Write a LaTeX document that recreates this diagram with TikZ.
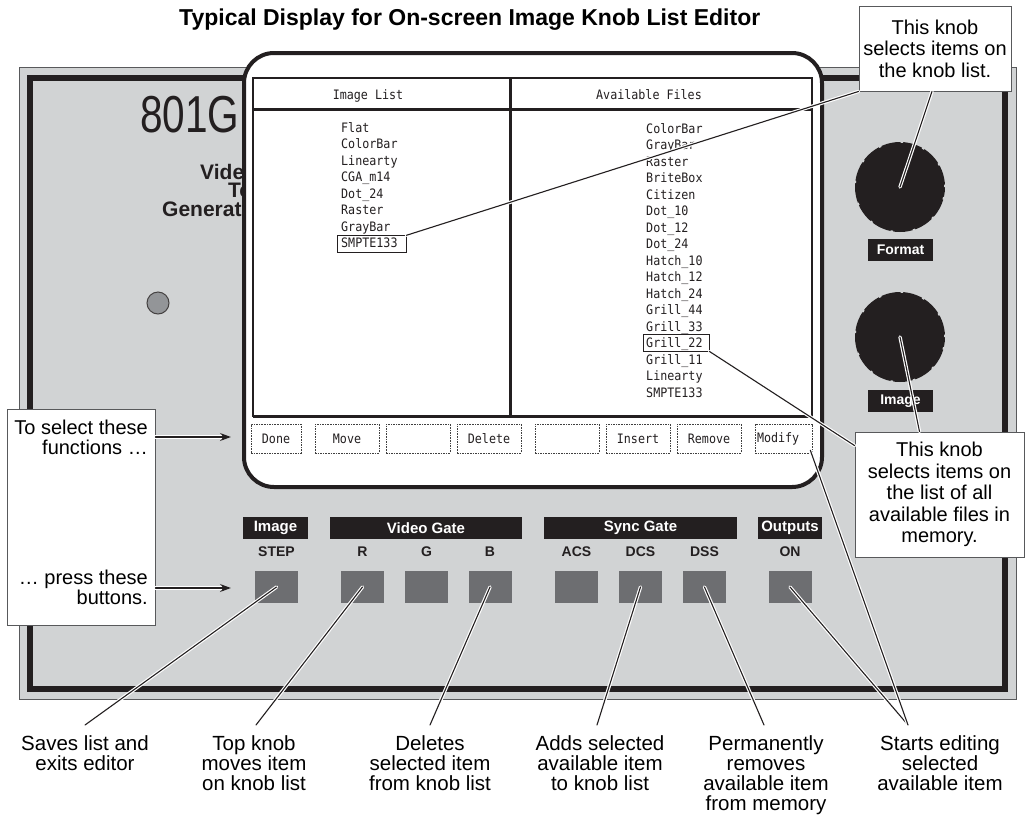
\documentclass[tikz,border=0pt]{standalone}
\usepackage{fontspec}
\setmainfont{Liberation Sans}
\newfontfamily\screenmono{DejaVu Sans Mono}[FakeStretch=0.9]
\newfontfamily\modelfont{Liberation Sans}[FakeStretch=0.78]
\usetikzlibrary{arrows.meta,calc}
\definecolor{panelgray}{HTML}{D1D3D4}
\definecolor{panelink}{HTML}{231F20}
\definecolor{keygray}{HTML}{6D6E71}
\definecolor{ledgray}{HTML}{939598}
\definecolor{rimgray}{HTML}{58595B}
\tikzset{
  scr/.style={font=\screenmono\fontsize{13}{13}\selectfont, inner sep=0, text=panelink},
  item/.style={scr, anchor=base west},
  pick/.style={draw=panelink, line width=0.9pt, inner sep=0, minimum height=16.5pt},
  softkey/.style={scr, draw=black!75, dash pattern=on 1.6pt off 1pt, line width=0.7pt, minimum height=29pt},
  tag/.style={fill=panelink, text=white, font=\bfseries\fontsize{15}{15}\selectfont, inner sep=0, minimum height=22pt},
  keyname/.style={font=\bfseries\fontsize{14}{14}\selectfont, text=panelink, inner sep=0},
  keycap/.style={fill=keygray, minimum width=43pt, minimum height=32pt, inner sep=0},
  knob/.style={circle, fill=panelink, minimum size=90pt, inner sep=0},
  lead/.style={preaction={draw=white, line width=3.4pt, line cap=round}, draw=panelink, line width=1.1pt, line cap=round},
  note/.style={draw=rimgray, fill=white, line width=0.9pt, font=\fontsize{20}{21.5}\selectfont, align=center, inner sep=0},
  caption/.style={font=\fontsize{20.5}{20.3}\selectfont, align=center, inner sep=0, anchor=north},
  sidetext/.style={font=\fontsize{20}{20.5}\selectfont, align=right, inner sep=0, anchor=north east},
  desc/.style={font=\bfseries\fontsize{21}{21}\selectfont, inner sep=0, anchor=base west, text=panelink},
}
\begin{document}
\begin{tikzpicture}[x=1pt, y=-1pt]
\useasboundingbox (0,0) rectangle (1028,820);

% heading
\node[font=\bfseries\fontsize{23}{23}\selectfont, inner sep=0, anchor=west] (title) at (179,20)
  {Typical Display for On-screen Image Knob List Editor};

% front panel
\fill[panelgray] (19,67) rectangle (1016,699);
\draw[rimgray, line width=1pt] (19,67) rectangle (1016,699);
\draw[panelink, line width=6pt] (30,78) rectangle (1005,689);

% model name and description
\node[font=\modelfont\fontsize{52}{52}\selectfont, inner sep=0, anchor=base west, text=panelink] (model) at (140,132) {801G};
\node[desc] (desc1) at (200,179) {Video};
\node[desc] (desc2) at (228,197) {Test};
\node[desc] (desc3) at (162,216) {Generator};

% power lamp
\node[circle, draw=panelink!85, fill=ledgray, line width=1pt, minimum size=22pt, inner sep=0] (led) at (158,303) {};

% monitor
\draw[panelink, fill=white, line width=4pt, rounded corners=30pt] (244,53) rectangle (822,487);
\draw[panelink, line width=1.5pt] (253,78) rectangle (812,416);
\draw[panelink, line width=3pt] (253,109) -- (812,109);
\draw[panelink, line width=3pt] (510,78) -- (510,416);
\draw[panelink, line width=3pt] (253,416) -- (812,416);

\node[scr, anchor=base] (hdrL) at (368,99) {Image List};
\node[scr, anchor=base] (hdrR) at (649,99) {Available Files};

\foreach \t [count=\i from 0] in {Flat,ColorBar,Linearty,CGA\_m14,Dot\_24,Raster,GrayBar,SMPTE133}
  \node[item] (li\i) at (341,{132.3+16.5*\i}) {\t};
\foreach \t [count=\i from 0] in {ColorBar,GrayBar,Raster,BriteBox,Citizen,Dot\_10,Dot\_12,Dot\_24,Hatch\_10,Hatch\_12,Hatch\_24,Grill\_44,Grill\_33,Grill\_22,Grill\_11,Linearty,SMPTE133}
  \node[item] (ri\i) at (646,{133.3+16.5*\i}) {\t};

\node[pick, minimum width=69pt] (pickL) at (371.5,244) {};
\node[pick, minimum width=66pt, minimum height=17pt] (pickR) at (676,342.5) {};

% soft keys along the bottom of the screen
\node[softkey, minimum width=50pt] (skDone) at (276,438.5) {Done};
\node[softkey, minimum width=64pt] (skMove) at (347,438.5) {Move};
\node[softkey, minimum width=64pt] (skBlankA) at (418,438.5) {};
\node[softkey, minimum width=64pt] (skDelete) at (489,438.5) {Delete};
\node[softkey, minimum width=64pt] (skBlankB) at (567,438.5) {};
\node[softkey, minimum width=64pt] (skInsert) at (638,438.5) {Insert};
\node[softkey, minimum width=64pt] (skRemove) at (709,438.5) {Remove};
\node[softkey, text width=53pt, inner xsep=2pt, align=left] (skModify) at (783.5,438.5) {Modify};

% knobs
\node[knob] (kFormat) at (900,187) {};
\draw[panelgray, line width=1.6pt, dash pattern=on 2.5pt off 20pt] (kFormat.center) circle[radius=45pt];
\node[knob] (kImage) at (900,337) {};
\draw[panelgray, line width=1.6pt, dash pattern=on 2.5pt off 20pt] (kImage.center) circle[radius=45pt];
\node[tag, minimum width=65pt, font=\bfseries\fontsize{14}{14}\selectfont] (tFormat) at (900.5,250) {Format};
\node[tag, minimum width=65pt, font=\bfseries\fontsize{14}{14}\selectfont] (tImage) at (900.5,401) {Image};

% group tags, key names and keys
\node[tag, minimum width=65pt] (gImage) at (275.5,528) {Image};
\node[tag, minimum width=192pt] (gVideo) at (426,528) {Video Gate};
\node[tag, minimum width=193pt] (gSync) at (640.5,528) {Sync Gate};
\node[tag, minimum width=64pt] (gOut) at (790,528) {Outputs};

\foreach \n/\x/\t in {Step/276.5/STEP, R/362.5/R, G/426.5/G, B/490/B, Acs/576.5/ACS, Dcs/640.5/DCS, Dss/704.5/DSS, On/790/ON}{
  \node[keyname] (n\n) at (\x,552) {\t};
  \node[keycap] (k\n) at (\x,587) {};
}

% bottom captions
\node[caption] (capSave) at (85,735) {Saves list and\\exits editor};
\node[caption] (capMove) at (254,735) {Top knob\\moves item\\on knob list};
\node[caption] (capDel) at (430,735) {Deletes\\selected item\\from knob list};
\node[caption] (capAdd) at (600,735) {Adds selected\\available item\\to knob list};
\node[caption] (capPerm) at (766,735) {Permanently\\removes\\available item\\from memory};
\node[caption] (capEdit) at (940,735) {Starts editing\\selected\\available item};

% callouts
\node[note, minimum width=152pt, minimum height=85pt] (noteTop) at (935,48.5)
  {This knob\\selects items on\\the knob list.};
\node[note, minimum width=169pt, minimum height=125pt] (noteLow) at (939.5,494.5)
  {This knob\\selects items on\\the list of all\\available files in\\memory.};
\node[note, minimum width=148pt, minimum height=216pt] (noteLeft) at (81,517) {};
\node[sidetext] (fnText) at (148,419.5) {To select these\\functions …};
\node[sidetext] (btnText) at (148,569.5) {… press these\\buttons.};

% leader lines
\draw[lead] (pickL.north east) -- (noteTop.south west);
\draw[lead] ([xshift=-3pt]noteTop.south) -- (kFormat.center);
\draw[lead] (kImage.center) -- ([xshift=-20pt]noteLow.north);
\draw[lead] (pickR.south east) -- ([yshift=-14pt]noteLow.north west);

\draw[lead] (kStep.center) -- ([yshift=10pt]capSave.north);
\draw[lead] (kR.center) -- ([xshift=2pt,yshift=10pt]capMove.north);
\draw[lead] (kB.center) -- ([yshift=10pt]capDel.north);
\draw[lead] (kDcs.center) -- ([xshift=-3pt,yshift=10pt]capAdd.north);
\draw[lead] (kDss.center) -- ([xshift=-2pt,yshift=10pt]capPerm.north);
\coordinate (editTip) at ([xshift=-32pt,yshift=10pt]capEdit.north);
\draw[lead] (kOn.center) -- (editTip);
\draw[lead] ([xshift=-2pt,yshift=3pt]skModify.south east) -- (editTip);

% pointer arrows from the side note
\coordinate (fnTip) at (231,437);
\coordinate (btnTip) at (231,588);
\draw[lead, -{Stealth[length=11pt,width=8pt]}] (noteLeft.east |- fnTip) -- (fnTip);
\draw[lead, -{Stealth[length=11pt,width=8pt]}] (noteLeft.east |- btnTip) -- (btnTip);
\end{tikzpicture}
\end{document}
